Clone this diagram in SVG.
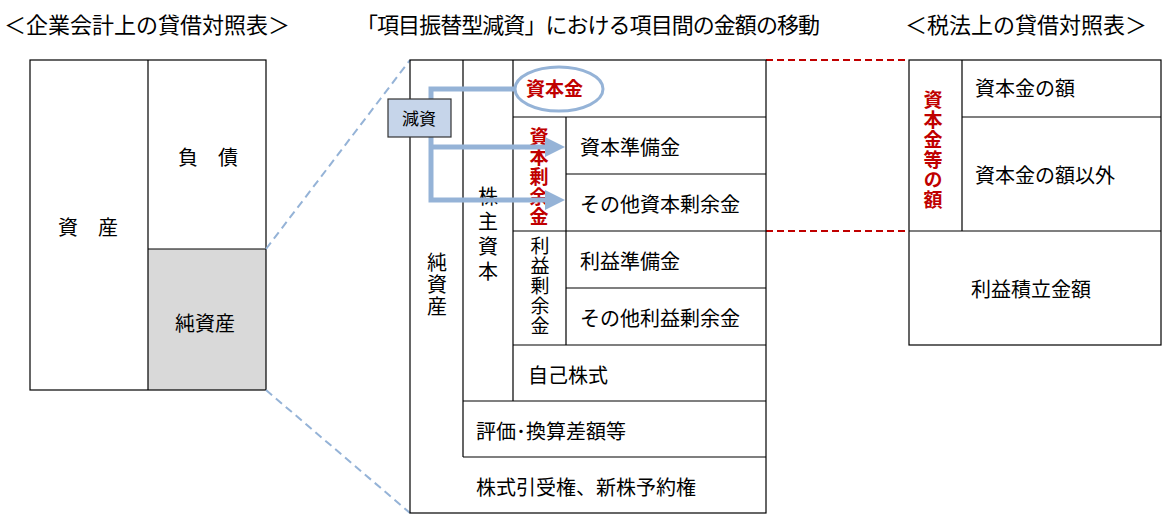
<svg xmlns="http://www.w3.org/2000/svg" width="1170" height="523" viewBox="0 0 1170 523">
<style>
text{font-family:"Noto Sans CJK JP","Noto Sans CJK SC",sans-serif;font-size:20px;fill:#000}
.t{font-size:22px}
.r{fill:#c00000;font-weight:bold;font-size:19px}
.c{fill:none;stroke:#000;stroke-width:1.2}
.v{writing-mode:tb}
.ar{fill:none;stroke:#95b3d7;stroke-width:5}
</style>
<defs><marker id="a" markerWidth="4" markerHeight="4" refX="2" refY="2" orient="auto"><path d="M0,0L4,2L0,4z" fill="#95b3d7"/></marker></defs>
<rect width="1170" height="523" fill="#fff"/>
<text class="t" x="4" y="33">＜企業会計上の貸借対照表＞</text>
<text class="t" x="356" y="33" textLength="464">「項目振替型減資」における項目間の金額の移動</text>
<text class="t" x="905" y="33">＜税法上の貸借対照表＞</text>
<g id="left">
<rect x="148" y="249" width="118" height="141" fill="#d9d9d9"/>
<rect class="c" x="30" y="60" width="236" height="330"/>
<path class="c" d="M148,60V390M148,249H266"/>
<text x="58" y="235">資　産</text>
<text x="178" y="165">負　債</text>
<text x="175" y="331">純資産</text>
</g>
<g id="connectors">
<path d="M266,249L410,60M266,390L410,513" stroke="#95b3d7" stroke-width="2" stroke-dasharray="8,5" fill="none"/>
<path d="M766,60H909M766,231H909" stroke="#c00000" stroke-width="2" stroke-dasharray="7,4" fill="none"/>
</g>
<g id="center">
<rect class="c" x="410" y="60" width="356" height="453"/>
<path class="c" d="M463,60V457M513,60V401M513,117H766M566,117V345M566,174H766M513,231H766M566,288H766M513,345H766M463,401H766M463,457H766"/>
<text class="v" x="437" y="252" style="letter-spacing:2px">純資産</text>
<text class="v" x="488" y="186" style="letter-spacing:5px">株主資本</text>
<text class="v r" x="539" y="127" style="letter-spacing:1px">資本剰余金</text>
<text class="v" x="540" y="236" style="font-size:19px;letter-spacing:1px">利益剰余金</text>
<text x="580" y="155">資本準備金</text>
<text x="580" y="212">その他資本剰余金</text>
<text x="580" y="269">利益準備金</text>
<text x="580" y="326">その他利益剰余金</text>
<text x="528" y="383">自己株式</text>
<text x="476" y="439">評価･換算差額等</text>
<text x="476" y="495">株式引受権、新株予約権</text>
<text class="r" x="526" y="96">資本金</text>
</g>
<g id="arrows">
<path class="ar" d="M431,99V89H514"/>
<path class="ar" d="M431,137V200H555" marker-end="url(#a)"/>
<path class="ar" d="M431,147H555" marker-end="url(#a)"/>
<ellipse cx="559" cy="89" rx="44" ry="22" fill="none" stroke="#95b3d7" stroke-width="3"/>
</g>
<g id="genshi"><rect x="388" y="99" width="63" height="38" fill="#c6d5ea" stroke="#333" stroke-width="1.2"/><text x="402" y="125" style="font-size:17px">減資</text></g>
<g id="right">
<rect class="c" x="909" y="60" width="252" height="285"/>
<path class="c" d="M962,60V231M909,231H1161M962,117H1161"/>
<text class="v r" x="933" y="90" style="letter-spacing:1px">資本金等の額</text>
<text x="975" y="96">資本金の額</text>
<text x="975" y="183">資本金の額以外</text>
<text x="971" y="297">利益積立金額</text>
</g>
</svg>
